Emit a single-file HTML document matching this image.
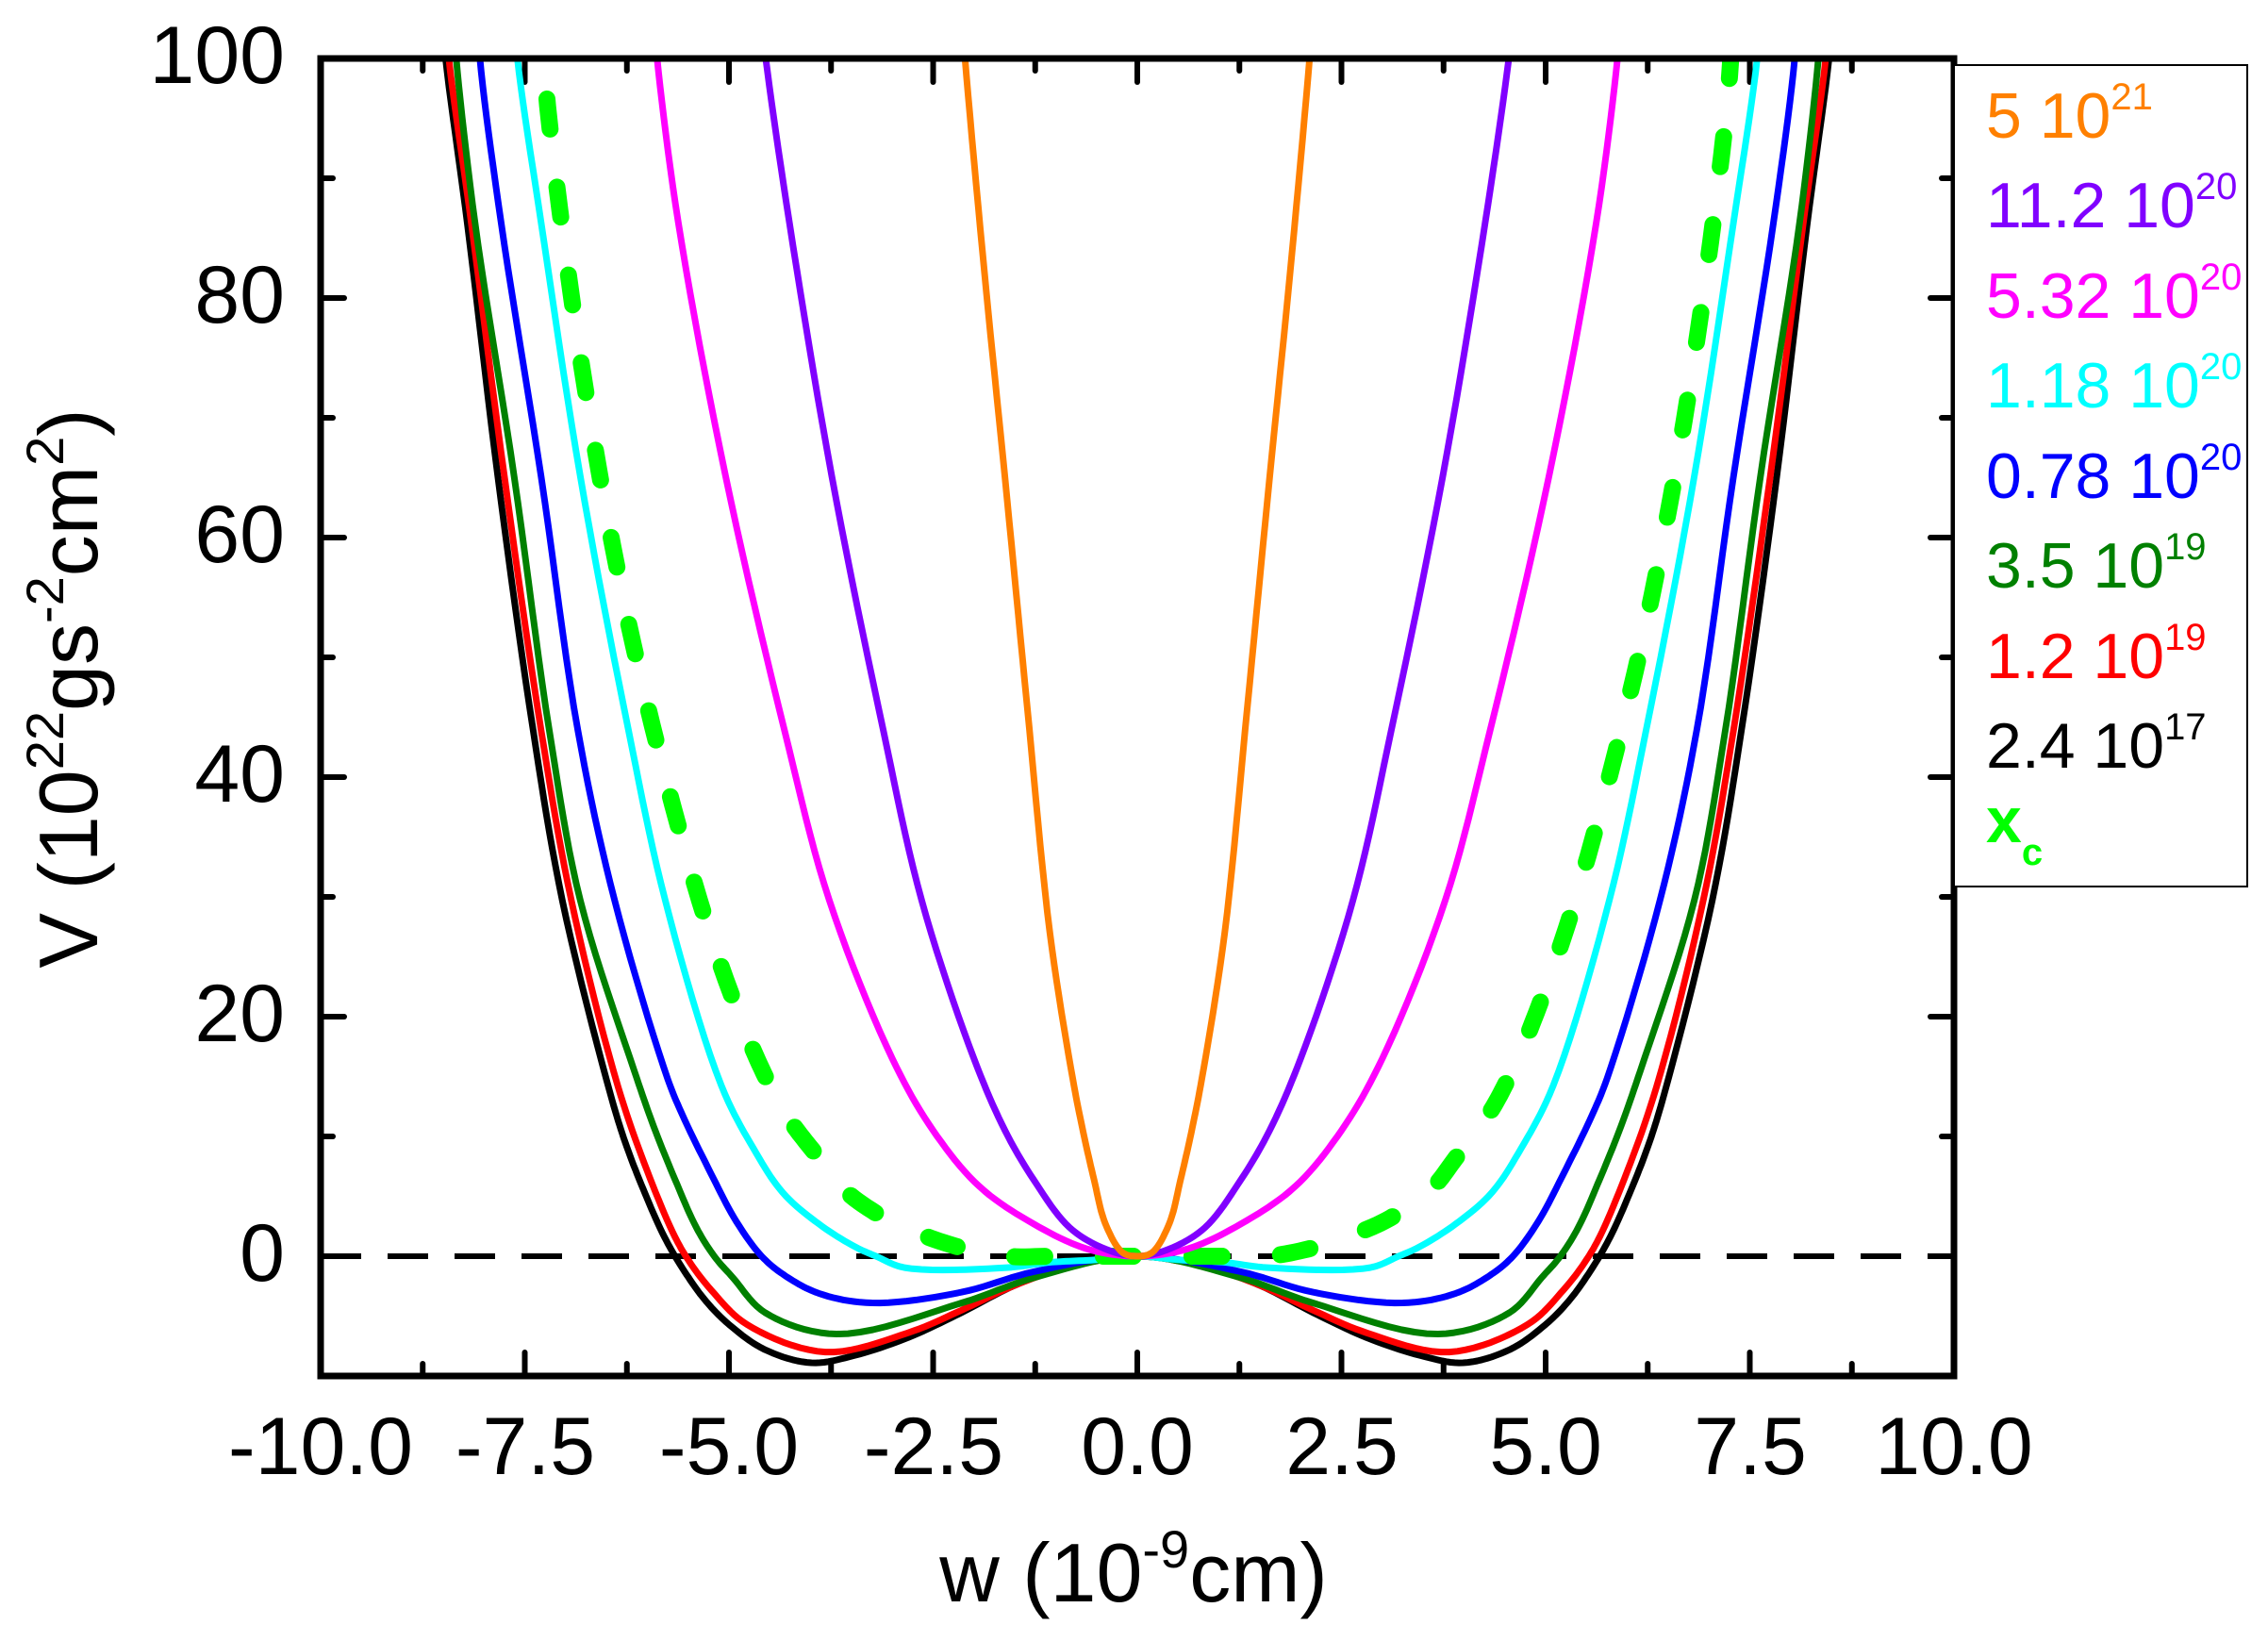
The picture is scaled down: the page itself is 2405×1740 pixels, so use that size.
<!DOCTYPE html>
<html><head><meta charset="utf-8"><style>
html,body{margin:0;padding:0;background:#fff;}
svg{display:block;}
text{font-family:"Liberation Sans",Arial,sans-serif;}
</style></head><body>
<svg id="s" width="2405" height="1740" viewBox="0 0 2405 1740" xmlns="http://www.w3.org/2000/svg">
<defs><clipPath id="cp"><rect x="340" y="62" width="1732" height="1397"/></clipPath></defs>
<rect width="2405" height="1740" fill="#fff"/>
<g id="ticks" stroke="#000" stroke-width="6" stroke-linecap="round"></g>
<line x1="340" y1="1332" x2="2072" y2="1332" stroke="#000" stroke-width="6" stroke-dasharray="43 28"/>
<g id="curves" clip-path="url(#cp)" fill="none" stroke-linejoin="round"></g>
<rect x="340" y="62" width="1732" height="1397" fill="none" stroke="#000" stroke-width="7"/>
<g font-size="86" text-anchor="end" fill="#000">
<text x="302" y="88">100</text><text x="302" y="342">80</text><text x="302" y="596">60</text>
<text x="302" y="850">40</text><text x="302" y="1104">20</text><text x="302" y="1358">0</text>
</g>
<g font-size="86" text-anchor="middle" fill="#000">
<text x="340" y="1563">-10.0</text><text x="557" y="1563">-7.5</text><text x="773" y="1563">-5.0</text>
<text x="990" y="1563">-2.5</text><text x="1206" y="1563">0.0</text><text x="1423" y="1563">2.5</text>
<text x="1639" y="1563">5.0</text><text x="1856" y="1563">7.5</text><text x="2072" y="1563">10.0</text>
</g>
<text x="1202" y="1698" font-size="88" text-anchor="middle">w (10<tspan font-size="56" dy="-36">-9</tspan><tspan dy="36">cm)</tspan></text>
<text transform="translate(103,730) rotate(-90)" font-size="88" text-anchor="middle">V (10<tspan font-size="56" dy="-36">22</tspan><tspan dy="36">gs</tspan><tspan font-size="56" dy="-36">-2</tspan><tspan dy="36">cm</tspan><tspan font-size="56" dy="-36">2</tspan><tspan dy="36">)</tspan></text>
<rect x="2072" y="69" width="311" height="871" fill="#fff" stroke="#000" stroke-width="2"/>
<g font-size="68">
<text x="2106" y="146" fill="#FF8000">5 10<tspan font-size="40" dy="-30">21</tspan></text>
<text x="2106" y="241" fill="#8000FF">11.2 10<tspan font-size="40" dy="-30">20</tspan></text>
<text x="2106" y="337" fill="#FF00FF">5.32 10<tspan font-size="40" dy="-30">20</tspan></text>
<text x="2106" y="432" fill="#00FFFF">1.18 10<tspan font-size="40" dy="-30">20</tspan></text>
<text x="2106" y="528" fill="#0000FF">0.78 10<tspan font-size="40" dy="-30">20</tspan></text>
<text x="2106" y="623" fill="#008000">3.5 10<tspan font-size="40" dy="-30">19</tspan></text>
<text x="2106" y="719" fill="#FF0000">1.2 10<tspan font-size="40" dy="-30">19</tspan></text>
<text x="2106" y="814" fill="#000">2.4 10<tspan font-size="40" dy="-30">17</tspan></text>
<text x="2106" y="893" fill="#00FF00" font-weight="bold">x<tspan font-size="40" dy="24">c</tspan></text>
</g>
</svg>
<script>
(function(){
var NS="http://www.w3.org/2000/svg";
function X(w){return 1206+86.6*w;} function Y(v){return 1332-12.7*v;}
var tg=document.getElementById('ticks');
function ln(x1,y1,x2,y2){var l=document.createElementNS(NS,'line');l.setAttribute('x1',x1);l.setAttribute('y1',y1);l.setAttribute('x2',x2);l.setAttribute('y2',y2);tg.appendChild(l);}
for(var v=-10;v<=100;v+=10){var y=Y(v);var L=(v%20===0)?25:13;ln(340,y,340+L,y);ln(2072,y,2072-L,y);}
for(var k=-8;k<=8;k++){var w=k*1.25;var x=X(w);var L=(k%2===0)?25:13;ln(x,1459,x,1459-L);ln(x,62,x,62+L);}
var data=[
["#000",7,null,[[0,0],[0.83,-0.87],[1.49,-2.4],[2.15,-4.7],[2.81,-6.8],[3.47,-8.3],[3.99,-8.9],[4.56,-7.8],[5,-5.7],[5.3,-3.6],[5.57,-1.0],[5.79,1.6],[6.05,5.6],[6.27,9.5],[6.45,13.5],[7.04,29.7],[7.4,44],[7.83,65.1],[8.2,86],[8.47,100],[8.55,106]]],
["#FF0000",7,null,[[0,0],[0.83,-0.9],[1.49,-2.4],[2.15,-4.5],[2.81,-6.4],[3.82,-8.0],[4.78,-5.7],[5.22,-2.8],[5.48,-0.5],[5.66,1.6],[6.0,7.1],[6.36,14.2],[6.93,29.7],[7.3,43.9],[7.75,65.1],[8.15,86],[8.43,100],[8.5,106]]],
["#008000",7,null,[[0,0],[1.27,-1.8],[2.15,-3.9],[3.68,-6.5],[4.56,-4.7],[4.95,-1.8],[5.18,0],[5.4,2.4],[5.66,6.4],[5.92,10.8],[6.16,15.5],[6.82,29.7],[7.2,43.9],[7.63,65.1],[8.11,86.3],[8.34,100],[8.4,106]]],
["#0000FF",7,null,[[0,0],[1.27,-1.3],[2.15,-3.0],[3.25,-3.9],[3.9,-3.1],[4.34,-1.5],[4.6,0],[4.91,2.9],[5.22,6.9],[5.57,11.8],[5.75,14.8],[6.4,29.7],[6.85,43.9],[7.3,65.1],[7.79,86.3],[8.05,100],[8.1,106]]],
["#00FFFF",7,null,[[0,0],[0.5,-0.3],[1.05,-0.5],[1.6,-0.95],[2.85,-0.95],[3.2,0],[3.46,0.8],[3.9,2.7],[4.34,5.3],[4.7,9],[5.09,14.2],[5.78,29.7],[6.23,43.9],[6.82,65.1],[7.3,86.3],[7.59,100],[7.65,106]]],
["#00FF00",18,"32 62",[[0,0],[1.0,0],[1.6,0],[2.15,0.7],[2.68,1.9],[3.1,3.2],[3.6,5.6],[3.9,8.2],[4.28,11.6],[4.54,14.8],[4.84,19.5],[5.36,29.7],[6.17,51],[6.75,72],[7.22,96],[7.3,104]]],
["#FF00FF",7,null,[[0,0],[0.61,0.6],[1.27,2.7],[1.93,5.8],[2.5,10.5],[3.0,16.5],[3.77,29.7],[4.32,43.9],[5.04,65.1],[5.62,86.3],[5.88,100],[5.95,106]]],
["#8000FF",7,null,[[0,0],[0.39,0.6],[0.83,2.4],[1.27,6.4],[1.62,10.5],[2.0,16.5],[2.64,29.7],[3.11,43.9],[3.74,65.1],[4.26,86.3],[4.55,100],[4.65,106]]],
["#FF8000",7,null,[[0,0],[0.18,0.3],[0.39,2.7],[0.53,6.4],[0.66,10.3],[0.79,14.8],[1.07,27],[1.35,46],[1.62,65],[1.87,82],[2.11,100],[2.2,108]]]
];
function lerp(a,b,ta,tb,t){var k=(tb===ta)?0:(t-ta)/(tb-ta);return [a[0]+(b[0]-a[0])*k,a[1]+(b[1]-a[1])*k];}
function seg(p0,p1,p2,p3,t){
  function tj(ti,a,b){var d=Math.hypot(b[0]-a[0],b[1]-a[1]);return ti+Math.pow(Math.max(d,1e-6),0.5);}
  var t0=0,t1=tj(t0,p0,p1),t2=tj(t1,p1,p2),t3=tj(t2,p2,p3);
  var tt=t1+(t2-t1)*t;
  var A1=lerp(p0,p1,t0,t1,tt),A2=lerp(p1,p2,t1,t2,tt),A3=lerp(p2,p3,t2,t3,tt);
  var B1=lerp(A1,A2,t0,t2,tt),B2=lerp(A2,A3,t1,t3,tt);
  return lerp(B1,B2,t1,t2,tt);
}
var cg=document.getElementById('curves');
data.forEach(function(d){
  var pts=d[3];var full=[];
  for(var i=pts.length-1;i>0;i--)full.push([X(-pts[i][0]),Y(pts[i][1])]);
  for(var i=0;i<pts.length;i++)full.push([X(pts[i][0]),Y(pts[i][1])]);
  var n=full.length;
  var ext=[[2*full[0][0]-full[1][0],2*full[0][1]-full[1][1]]].concat(full,[[2*full[n-1][0]-full[n-2][0],2*full[n-1][1]-full[n-2][1]]]);
  var s="M"+full[0][0].toFixed(1)+","+full[0][1].toFixed(1);
  for(var i=1;i<ext.length-2;i++){
    for(var t=0.1;t<=1.0001;t+=0.1){
      var q=seg(ext[i-1],ext[i],ext[i+1],ext[i+2],Math.min(t,1));
      s+=" L"+q[0].toFixed(1)+","+q[1].toFixed(1);
    }
  }
  var p=document.createElementNS(NS,'path');p.setAttribute('d',s);p.setAttribute('stroke',d[0]);p.setAttribute('stroke-width',d[1]);
  if(d[2]){p.setAttribute('stroke-dasharray',d[2]);p.setAttribute('stroke-linecap','round');}
  cg.appendChild(p);
});
})();
</script>
</body></html>
